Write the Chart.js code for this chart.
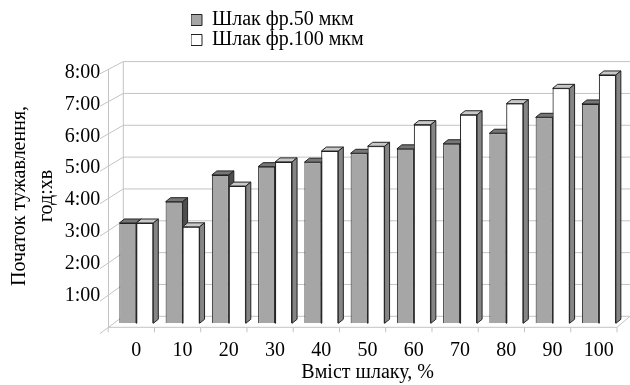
<!DOCTYPE html>
<html>
<head>
<meta charset="utf-8">
<script src="https://cdn.jsdelivr.net/npm/chart.js@4/dist/chart.umd.min.js"></script>
<style>
  html, body { margin: 0; padding: 0; background: #ffffff; }
  #wrap { width: 630px; height: 385px; }
</style>
</head>
<body>
<div id="wrap"><canvas id="c" width="630" height="385"></canvas></div>
<script>
// ---- data (hours) ----
const categories = ['0', '10', '20', '30', '40', '50', '60', '70', '80', '90', '100'];
const seriesNames = ['Шлак фр.50 мкм', 'Шлак фр.100 мкм'];
const slag50 = [3.15, 3.82, 4.66, 4.92, 5.06, 5.34, 5.48, 5.64, 5.97, 6.47, 6.89];
const slag100 = [3.15, 3.03, 4.31, 5.07, 5.41, 5.56, 6.24, 6.55, 6.90, 7.38, 7.80];
const yTickLabels = ['', '1:00', '2:00', '3:00', '4:00', '5:00', '6:00', '7:00', '8:00'];
const yTitle = ['Початок тужавлення,', 'год:хв'];
const xTitle = 'Вміст шлаку, %';

const FONT = "'Liberation Serif', 'Times New Roman', serif";
const GRID = '#c4c4c4';

// faces colours per dataset: [top, side]
const faceColors = [['#767676', '#4d4d4d'], ['#c9c9c9', '#858585']];

function drawFaces(ctx, meta, idx) {
  const [topC, sideC] = faceColors[idx];
  const dx = 5, dy = -4;
  ctx.save();
  ctx.lineWidth = 1;
  ctx.strokeStyle = '#222222';
  ctx.lineJoin = 'round';
  meta.data.forEach(el => {
    const { x, y, base, width } = el.getProps(['x', 'y', 'base', 'width'], true);
    const x0 = x - width / 2, x1 = x + width / 2;
    ctx.beginPath();
    ctx.moveTo(x0, y); ctx.lineTo(x1, y); ctx.lineTo(x1 + dx, y + dy); ctx.lineTo(x0 + dx, y + dy);
    ctx.closePath();
    ctx.fillStyle = topC; ctx.fill(); ctx.stroke();
    ctx.beginPath();
    ctx.moveTo(x1, y); ctx.lineTo(x1 + dx, y + dy); ctx.lineTo(x1 + dx, base + dy); ctx.lineTo(x1, base);
    ctx.closePath();
    ctx.fillStyle = sideC; ctx.fill(); ctx.stroke();
  });
  ctx.restore();
}

const threeD = {
  id: 'threeD',
  beforeDatasetsDraw(chart) {
    const { ctx, chartArea: ca, scales: { y } } = chart;
    const yS = v => y.getPixelForValue(v);
    const fy = v => ca.bottom + 4 + (yS(v) - ca.bottom) * 1.013;
    const by = v => yS(v) - 7;
    const fx = ca.left - 4.7;
    const bx = ca.left + 10.1;
    const rx = ca.right + 8;
    ctx.save();
    ctx.strokeStyle = GRID;
    ctx.lineWidth = 1;
    ctx.beginPath();
    for (let v = 0; v <= 8; v++) {
      ctx.moveTo(bx, by(v)); ctx.lineTo(rx, by(v));
      const f = fy(v), b = by(v);
      const slope = (b - f) / (bx - fx);
      ctx.moveTo(fx - 8.5, f - slope * 8.5); ctx.lineTo(bx, b);
    }
    ctx.moveTo(bx, by(0)); ctx.lineTo(bx, by(8));
    ctx.moveTo(fx, fy(0)); ctx.lineTo(fx, fy(8));
    const fr = ca.right - 5;
    ctx.moveTo(fx, fy(0)); ctx.lineTo(fr, fy(0));
    ctx.moveTo(fr, fy(0)); ctx.lineTo(rx, by(0));
    const n = categories.length;
    for (let i = 0; i <= n; i++) {
      const x = ca.left - 5 + i * ca.width / n;
      ctx.moveTo(x, fy(0)); ctx.lineTo(x, fy(0) + 5);
    }
    ctx.stroke();
    ctx.restore();
  },
  afterDatasetsDraw(chart) {
    const { ctx } = chart;
    const m0 = chart.getDatasetMeta(0);
    const m1 = chart.getDatasetMeta(1);
    // grey series faces, then white series (front redrawn by the library element) on top
    drawFaces(ctx, m0, 0);
    m1.data.forEach(el => el.draw(ctx));
    drawFaces(ctx, m1, 1);
  }
};

const legendPlace = {
  id: 'legendPlace',
  afterLayout(chart) {
    const l = chart.legend;
    if (!l) return;
    const w = l.width, h = l.height;
    l.left = 191; l.right = 191 + w;
    l.top = 10; l.bottom = 10 + h;
  }
};

new Chart(document.getElementById('c'), {
  type: 'bar',
  data: {
    labels: categories,
    datasets: [
      { label: seriesNames[0], data: slag50, backgroundColor: '#a6a6a6', borderColor: '#222222', borderWidth: 1 },
      { label: seriesNames[1], data: slag100, backgroundColor: '#ffffff', borderColor: '#222222', borderWidth: 1 }
    ]
  },
  options: {
    responsive: false,
    animation: false,
    devicePixelRatio: 1,
    categoryPercentage: 0.734,
    barPercentage: 1,
    layout: { padding: { top: 68.6, right: 8, bottom: 0, left: 0 } },
    plugins: {
      tooltip: { enabled: false },
      legend: {
        position: 'chartArea',
        align: 'start',
        labels: {
          boxWidth: 11, boxHeight: 11, padding: 0,
          color: '#000000',
          font: { family: FONT, size: 20 }
        }
      }
    },
    scales: {
      x: {
        grid: { display: false, drawTicks: false },
        border: { display: false },
        ticks: { color: '#000000', font: { family: FONT, size: 20 }, padding: 15, maxRotation: 0, autoSkip: false },
        title: { display: true, text: xTitle, color: '#000000', font: { family: FONT, size: 20 }, padding: { top: 0, bottom: 0 } },
        afterFit: s => { s.height = 61.7; }
      },
      y: {
        min: 0, max: 8,
        grid: { display: false, drawTicks: false },
        border: { display: false },
        ticks: {
          stepSize: 1, autoSkip: false, padding: 13, labelOffset: 4,
          color: '#000000', font: { family: FONT, size: 20 },
          callback: (v, i) => yTickLabels[i]
        },
        title: { display: true, text: yTitle, color: '#000000', font: { family: FONT, size: 20, lineHeight: 1.35 }, padding: { top: 6.5, bottom: 0 } },
        afterFit: s => { s.width = 113.2; }
      }
    }
  },
  plugins: [threeD, legendPlace]
});
</script>
</body>
</html>
